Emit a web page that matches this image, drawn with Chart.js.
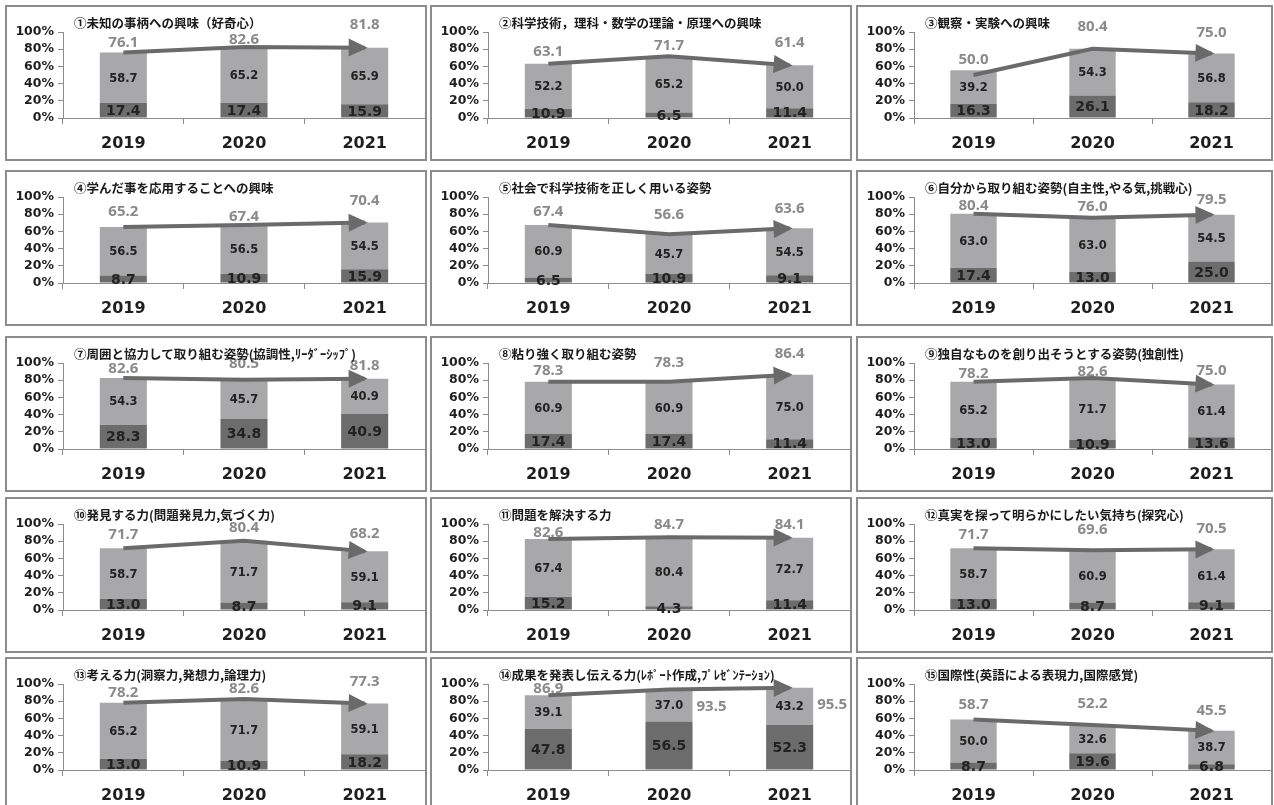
<!DOCTYPE html>
<html>
<head>
<meta charset="utf-8">
<script src="https://cdn.jsdelivr.net/npm/chart.js@4.4.1/dist/chart.umd.min.js"></script>
<style>
  body { margin: 0; width: 1274px; height: 805px; overflow: hidden; position: relative; background: #fff; }
  .panel { position: absolute; border: 2px solid #8c8c8c; box-sizing: border-box; background: #fff; overflow: hidden; }
  .panel canvas { position: absolute; left: 0; top: 0; }
  .title { position: absolute; left: 67px; top: 6px; line-height: 18px; font: bold 12.5px "Noto Sans CJK JP", sans-serif; color: #1a1a1a; white-space: nowrap; }
</style>
</head>
<body>
<script>
// survey years
const years = ['2019', '2020', '2021'];
const yTicks = [0, 20, 40, 60, 80, 100];

const titles = [
  '①未知の事柄への興味（好奇心）',
  '②科学技術，理科・数学の理論・原理への興味',
  '③観察・実験への興味',
  '④学んだ事を応用することへの興味',
  '⑤社会で科学技術を正しく用いる姿勢',
  '⑥自分から取り組む姿勢(自主性,やる気,挑戦心)',
  '⑦周囲と協力して取り組む姿勢(協調性,ﾘｰﾀﾞｰｼｯﾌﾟ)',
  '⑧粘り強く取り組む姿勢',
  '⑨独自なものを創り出そうとする姿勢(独創性)',
  '⑩発見する力(問題発見力,気づく力)',
  '⑪問題を解決する力',
  '⑫真実を探って明らかにしたい気持ち(探究心)',
  '⑬考える力(洞察力,発想力,論理力)',
  '⑭成果を発表し伝える力(ﾚﾎﾟｰﾄ作成,ﾌﾟﾚｾﾞﾝﾃｰｼｮﾝ)',
  '⑮国際性(英語による表現力,国際感覚)'
];

// dark (bottom) segment
const lowerValues = [
  [17.4, 17.4, 15.9], [10.9, 6.5, 11.4], [16.3, 26.1, 18.2],
  [8.7, 10.9, 15.9], [6.5, 10.9, 9.1], [17.4, 13.0, 25.0],
  [28.3, 34.8, 40.9], [17.4, 17.4, 11.4], [13.0, 10.9, 13.6],
  [13.0, 8.7, 9.1], [15.2, 4.3, 11.4], [13.0, 8.7, 9.1],
  [13.0, 10.9, 18.2], [47.8, 56.5, 52.3], [8.7, 19.6, 6.8]
];

// light (upper) segment
const upperValues = [
  [58.7, 65.2, 65.9], [52.2, 65.2, 50.0], [39.2, 54.3, 56.8],
  [56.5, 56.5, 54.5], [60.9, 45.7, 54.5], [63.0, 63.0, 54.5],
  [54.3, 45.7, 40.9], [60.9, 60.9, 75.0], [65.2, 71.7, 61.4],
  [58.7, 71.7, 59.1], [67.4, 80.4, 72.7], [58.7, 60.9, 61.4],
  [65.2, 71.7, 59.1], [39.1, 37.0, 43.2], [50.0, 32.6, 38.7]
];

// totals carried by the arrow line
const totalValues = [
  [76.1, 82.6, 81.8], [63.1, 71.7, 61.4], [50.0, 80.4, 75.0],
  [65.2, 67.4, 70.4], [67.4, 56.6, 63.6], [80.4, 76.0, 79.5],
  [82.6, 80.5, 81.8], [78.3, 78.3, 86.4], [78.2, 82.6, 75.0],
  [71.7, 80.4, 68.2], [82.6, 84.7, 84.1], [71.7, 69.6, 70.5],
  [78.2, 82.6, 77.3], [86.9, 93.5, 95.5], [58.7, 52.2, 45.5]
];

// label placement for the totals (pixels above the line point)
const totalLift = [
  [10, 7, 23], [12, 11, 22], [15, 22, 21], [15, 8, 22], [13, 20, 20],
  [8, 11, 15], [9, 16, 13], [11, 19, 21], [8, 6, 14], [14, 13, 18],
  [6, 12, 13], [14, 20, 21], [10, 10, 22], [7, -17, -17], [15, 21, 20]
];
const totalBeside = { 13: [false, true, true] };

// panel grid
const colLeft = [5, 430, 856];
const colWidth = [422, 422, 417];
const rowTop = [5, 170, 336, 497, 657];
const panelHeight = 156;

const DARK = '#6c6c6c';
const LIGHT = '#a8a8aa';
const LINE = '#6a6a6a';
const AXIS = '#8c8c8c';

const arrowHead = {
  id: 'arrowHead',
  afterDatasetsDraw(chart) {
    const pts = chart.getDatasetMeta(2).data;
    const a = pts[pts.length - 2], b = pts[pts.length - 1];
    const ang = Math.atan2(b.y - a.y, b.x - a.x);
    const tipX = b.x + 3 * Math.cos(ang), tipY = b.y + 3 * Math.sin(ang);
    const len = 19, half = 9;
    const bx = tipX - len * Math.cos(ang), by = tipY - len * Math.sin(ang);
    const ctx = chart.ctx;
    ctx.save();
    ctx.fillStyle = LINE;
    ctx.beginPath();
    ctx.moveTo(tipX, tipY);
    ctx.lineTo(bx + half * Math.sin(ang), by - half * Math.cos(ang));
    ctx.lineTo(bx - half * Math.sin(ang), by + half * Math.cos(ang));
    ctx.closePath();
    ctx.fill();
    ctx.restore();
  }
};

const segmentLabels = {
  id: 'segmentLabels',
  afterDatasetsDraw(chart) {
    const ctx = chart.ctx;
    ctx.save();
    ctx.textAlign = 'center';
    ctx.textBaseline = 'middle';
    ctx.fillStyle = '#222';
    [0, 1].forEach(di => {
      const ds = chart.data.datasets[di];
      ctx.font = di === 0 ? 'bold 14px "DejaVu Sans"' : 'bold 11.5px "DejaVu Sans"';
      chart.getDatasetMeta(di).data.forEach((bar, i) => {
        const p = bar.getProps(['x', 'y', 'base'], true);
        ctx.fillText(ds.data[i].toFixed(1), p.x, (p.y + p.base) / 2 + 1);
      });
    });
    ctx.restore();
  }
};

// totals sit underneath the bars and the arrow
const totalLabels = {
  id: 'totalLabels',
  beforeDatasetsDraw(chart, args, opts) {
    const ctx = chart.ctx;
    const ds = chart.data.datasets[2];
    const bars = chart.getDatasetMeta(1).data;
    ctx.save();
    ctx.font = 'bold 15px "Noto Sans"';
    ctx.fillStyle = '#8a8a8a';
    ctx.textBaseline = 'middle';
    chart.getDatasetMeta(2).data.forEach((pt, i) => {
      const lift = opts.lift[i];
      if (opts.beside && opts.beside[i]) {
        const bar = bars[i].getProps(['x', 'width'], true);
        ctx.textAlign = 'left';
        ctx.fillText(ds.data[i].toFixed(1), bar.x + bar.width / 2 + 4, pt.y - lift);
      } else {
        ctx.textAlign = 'center';
        ctx.fillText(ds.data[i].toFixed(1), pt.x, pt.y - lift);
      }
    });
    ctx.restore();
  }
};

titles.forEach((title, k) => {
  const row = Math.floor(k / 3), col = k % 3;
  const panel = document.createElement('div');
  panel.className = 'panel';
  panel.style.left = colLeft[col] + 'px';
  panel.style.top = rowTop[row] + 'px';
  panel.style.width = colWidth[col] + 'px';
  panel.style.height = panelHeight + 'px';
  document.body.appendChild(panel);

  const w = colWidth[col] - 4, h = panelHeight - 4;
  const canvas = document.createElement('canvas');
  canvas.width = w;
  canvas.height = h;
  canvas.style.width = w + 'px';
  canvas.style.height = h + 'px';
  panel.appendChild(canvas);

  const t = document.createElement('div');
  t.className = 'title';
  t.textContent = title;
  panel.appendChild(t);

  new Chart(canvas.getContext('2d'), {
    type: 'bar',
    data: {
      labels: years,
      datasets: [
        { data: lowerValues[k], backgroundColor: DARK, barPercentage: 0.39, categoryPercentage: 1, order: 1 },
        { data: upperValues[k], backgroundColor: LIGHT, barPercentage: 0.39, categoryPercentage: 1, order: 2 },
        { type: 'line', data: totalValues[k], stack: 'total', borderColor: LINE, borderWidth: 4,
          pointRadius: 0, fill: false, tension: 0, order: 0 }
      ]
    },
    options: {
      responsive: false,
      animation: false,
      devicePixelRatio: 1,
      layout: { padding: { top: 25, right: 0, left: 0, bottom: 0 } },
      plugins: {
        legend: { display: false },
        tooltip: { enabled: false },
        totalLabels: { lift: totalLift[k], beside: totalBeside[k] }
      },
      scales: {
        x: {
          stacked: true,
          grid: { display: true, drawOnChartArea: false, tickLength: 6, color: AXIS, offset: true },
          border: { display: true, color: AXIS, width: 1 },
          ticks: { color: '#1e1e1e', padding: 10, font: { family: 'DejaVu Sans', weight: 'bold', size: 16 } },
          afterFit: s => { s.height = h - 111; }
        },
        y: {
          stacked: true,
          min: yTicks[0],
          max: yTicks[yTicks.length - 1],
          afterBuildTicks: s => { s.ticks = yTicks.map(v => ({ value: v })); },
          grid: { display: true, drawOnChartArea: false, tickLength: 5, color: AXIS },
          border: { display: true, color: AXIS, width: 1 },
          ticks: { color: '#1e1e1e', padding: 4, autoSkip: false,
                   font: { family: 'DejaVu Sans', weight: 'bold', size: 12.5 },
                   callback: v => v + '%' },
          afterFit: s => { s.width = 56; }
        }
      }
    },
    plugins: [totalLabels, arrowHead, segmentLabels]
  });
});
</script>
</body>
</html>
